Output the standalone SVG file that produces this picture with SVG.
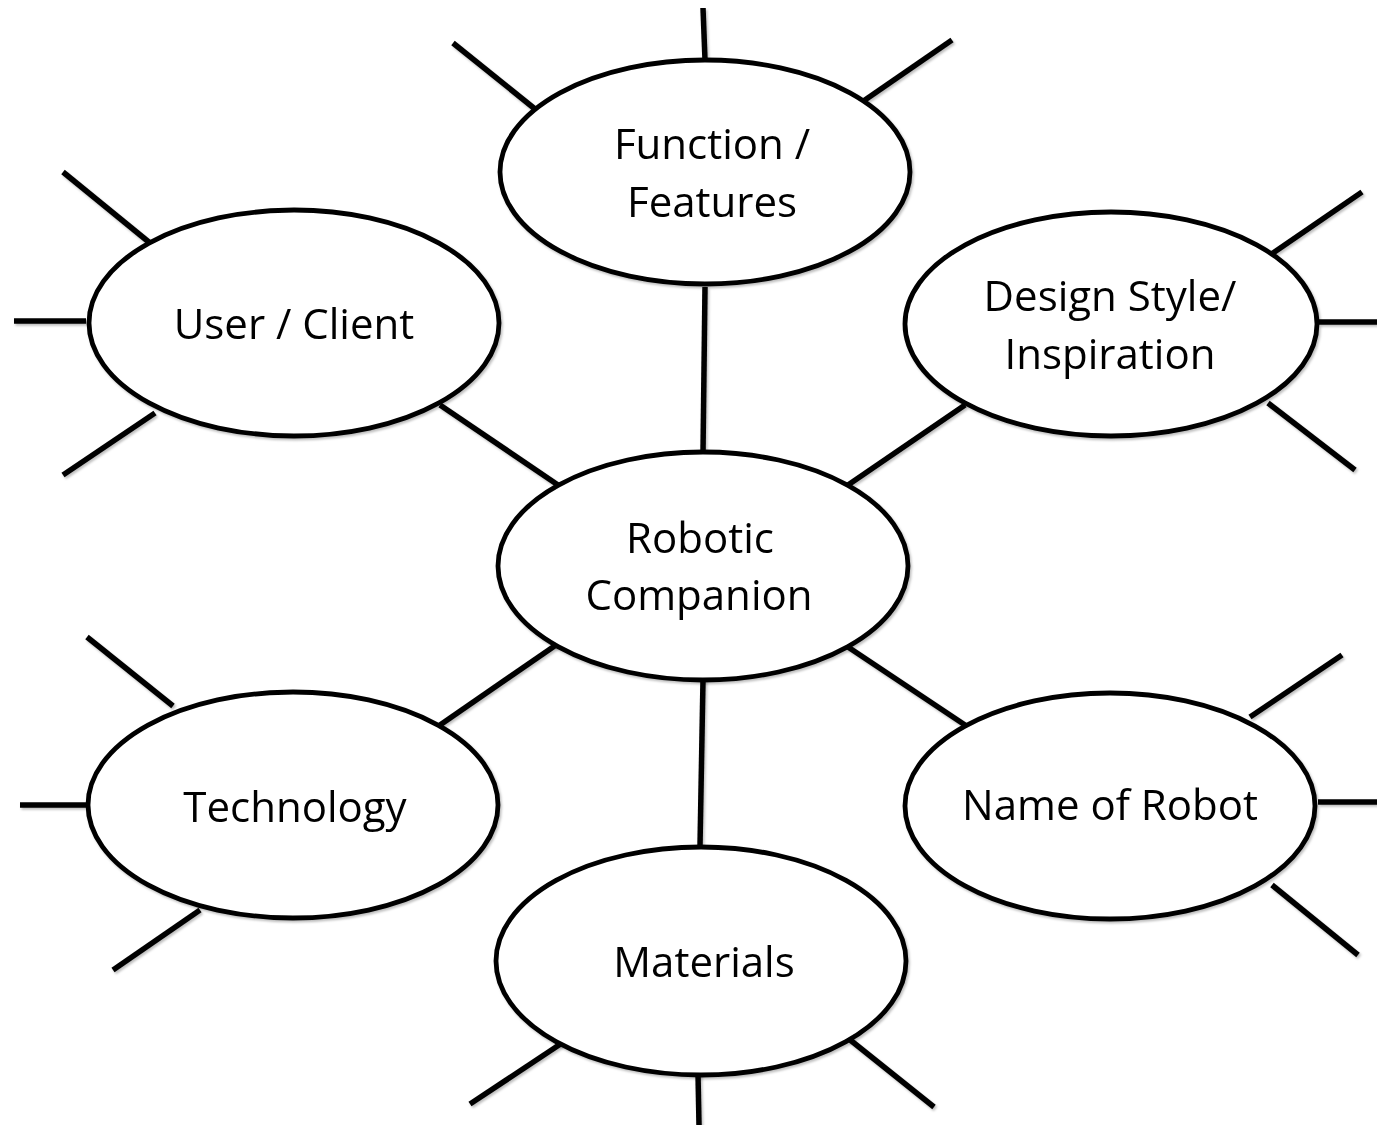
<svg xmlns="http://www.w3.org/2000/svg" width="1377" height="1125" viewBox="0 0 1377 1125">
<defs>
<filter id="sh" x="-20%" y="-20%" width="140%" height="140%">
<feDropShadow dx="1.5" dy="2" stdDeviation="1.2" flood-color="#000" flood-opacity="0.25"/>
</filter>
</defs>
<style>
.ln{stroke:#000;stroke-width:5.5;fill:none;stroke-linecap:butt}
.el{stroke:#000;stroke-width:4.8;fill:#fff}
.tx{font-family:"Open Sans","Noto Sans",sans-serif;font-size:42px;fill:#000;text-anchor:middle}
</style>
<rect width="1377" height="1125" fill="#fff"/>
<g id="connectors" class="ln" filter="url(#sh)">
<line x1="705" y1="287" x2="703" y2="452"/>
<line x1="440" y1="405" x2="558" y2="485"/>
<line x1="965" y1="405" x2="848" y2="485"/>
<line x1="440" y1="725" x2="556" y2="645"/>
<line x1="965" y1="725" x2="848" y2="647"/>
<line x1="700" y1="846" x2="703" y2="680"/>
<line x1="703" y1="8" x2="705" y2="60"/>
<line x1="453" y1="43" x2="540" y2="113"/>
<line x1="952" y1="40" x2="862" y2="102"/>
<line x1="63" y1="172" x2="150" y2="243"/>
<line x1="14" y1="321" x2="86" y2="321"/>
<line x1="63" y1="475" x2="155" y2="413"/>
<line x1="1362" y1="192" x2="1273" y2="253"/>
<line x1="1319" y1="322" x2="1377" y2="322"/>
<line x1="1355" y1="470" x2="1268" y2="403"/>
<line x1="87" y1="637" x2="173" y2="706"/>
<line x1="20" y1="805" x2="87" y2="805"/>
<line x1="113" y1="970" x2="200" y2="910"/>
<line x1="1342" y1="655" x2="1250" y2="717"/>
<line x1="1318" y1="802" x2="1377" y2="802"/>
<line x1="1358" y1="955" x2="1272" y2="885"/>
<line x1="470" y1="1104" x2="562" y2="1043"/>
<line x1="698" y1="1074" x2="699" y2="1125"/>
<line x1="934" y1="1107" x2="849" y2="1039"/>
</g>
<g id="function" filter="url(#sh)">
<ellipse class="el" cx="705" cy="172" rx="205" ry="112"/>
<text class="tx" x="712" y="159">Function /</text>
<text class="tx" x="712" y="217">Features</text>
</g>
<g id="user" filter="url(#sh)">
<ellipse class="el" cx="294" cy="323" rx="205" ry="113"/>
<text class="tx" x="294" y="339">User / Client</text>
</g>
<g id="design" filter="url(#sh)">
<ellipse class="el" cx="1111" cy="324" rx="206" ry="112"/>
<text class="tx" x="1110" y="311">Design Style/</text>
<text class="tx" x="1110" y="369">Inspiration</text>
</g>
<g id="robotic" filter="url(#sh)">
<ellipse class="el" cx="703" cy="566" rx="205" ry="114"/>
<text class="tx" x="700" y="553">Robotic</text>
<text class="tx" x="699" y="610">Companion</text>
</g>
<g id="technology" filter="url(#sh)">
<ellipse class="el" cx="293" cy="805" rx="205" ry="113"/>
<text class="tx" x="295" y="822">Technology</text>
</g>
<g id="name" filter="url(#sh)">
<ellipse class="el" cx="1110" cy="806" rx="205" ry="113"/>
<text class="tx" x="1110" y="820">Name of Robot</text>
</g>
<g id="materials" filter="url(#sh)">
<ellipse class="el" cx="701" cy="961" rx="205" ry="114"/>
<text class="tx" x="704" y="977">Materials</text>
</g>
</svg>
